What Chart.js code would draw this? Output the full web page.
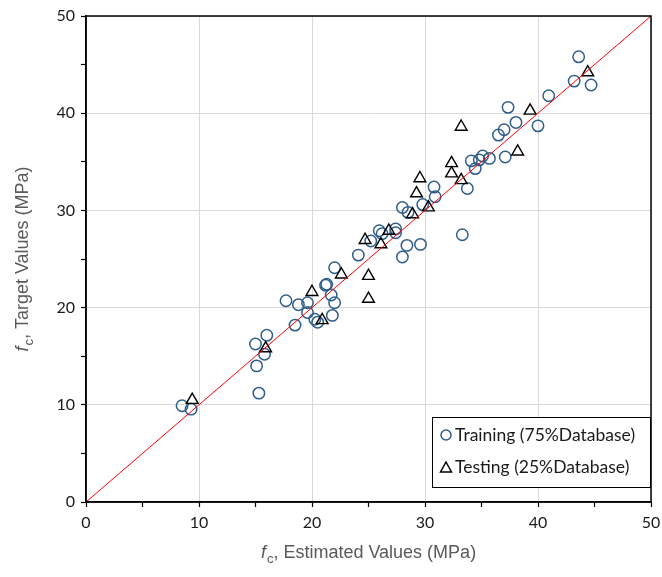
<!DOCTYPE html>
<html>
<head>
<meta charset="utf-8">
<script src="https://cdn.jsdelivr.net/npm/chart.js@4/dist/chart.umd.min.js"></script>
<style>
  html, body { margin: 0; padding: 0; background: #fff; }
  #wrap { width: 662px; height: 577px; position: relative; }
</style>
</head>
<body>
<div id="wrap"><canvas id="c" width="662" height="577"></canvas></div>
<script>
// Estimated vs. target compressive strength (MPa)
const trainEstimated = [8.5, 9.3, 15.3, 15.1, 15.0, 16.0, 15.8, 18.5, 17.7, 18.8, 19.6, 19.6, 20.25, 20.5,
  21.2, 21.3, 21.7, 22.0, 21.8, 22.0, 24.1, 25.2, 25.95, 26.2, 27.4, 27.4, 28.4, 28.0, 28.0, 28.5,
  29.6, 29.8, 30.8, 30.9, 33.3, 33.75, 34.1, 34.45, 34.8, 35.1, 35.7, 36.5, 37.0, 37.1, 38.05, 37.35,
  40.0, 40.95, 43.2, 43.6, 44.7];
const trainTarget = [9.9, 9.55, 11.2, 14.0, 16.25, 17.15, 15.2, 18.2, 20.7, 20.3, 20.5, 19.5, 18.8, 18.5,
  22.3, 22.4, 21.3, 20.5, 19.2, 24.1, 25.4, 26.85, 27.9, 27.6, 28.1, 27.7, 26.4, 25.2, 30.3, 29.8,
  26.5, 30.6, 32.4, 31.4, 27.5, 32.25, 35.1, 34.3, 35.2, 35.6, 35.35, 37.75, 38.3, 35.5, 39.05, 40.6,
  38.7, 41.8, 43.3, 45.8, 42.9];

const testEstimated = [9.4, 15.9, 20.0, 20.9, 22.6, 25.0, 25.0, 24.7, 26.1, 26.8, 28.9, 29.25, 29.55,
  30.3, 32.35, 32.35, 33.2, 33.2, 38.2, 39.3, 44.4];
const testTarget = [10.5, 15.8, 21.6, 18.7, 23.4, 23.25, 20.9, 26.95, 26.5, 27.9, 29.6, 31.75, 33.3,
  30.3, 34.85, 33.8, 33.1, 38.6, 36.05, 40.25, 44.2];

const idealLine = [0, 50];
const axisTicks = [0, 10, 20, 30, 40, 50];

const seriesNames = ['Training (75%Database)', 'Testing (25%Database)'];
const xTitle = ['f', 'c', ', Estimated Values (MPa)'];
const yTitle = ['f', 'c', ', Target Values (MPa)'];

const pairs = (xs, ys) => xs.map((x, i) => ({ x: x, y: ys[i] }));

const BLUE = '#2e5d8b';
const TICK_FONT = "Lato, 'Open Sans', sans-serif";
const TITLE_FONT = "'Liberation Sans', Arial, sans-serif";

// Axis titles with italic f and subscript c
function drawTitle(ctx, parts, size) {
  const f1 = 'italic ' + size + 'px ' + TITLE_FONT;
  const f2 = Math.round(size * 0.7) + 'px ' + TITLE_FONT;
  const f3 = size + 'px ' + TITLE_FONT;
  ctx.font = f1; const w1 = ctx.measureText(parts[0]).width + 1;
  ctx.font = f2; const w2 = ctx.measureText(parts[1]).width;
  ctx.font = f3; const w3 = ctx.measureText(parts[2]).width;
  const total = w1 + w2 + w3;
  let x = -total / 2;
  ctx.textBaseline = 'alphabetic';
  ctx.textAlign = 'left';
  ctx.font = f1; ctx.fillText(parts[0], x, 0); x += w1;
  ctx.font = f2; ctx.fillText(parts[1], x, size * 0.3); x += w2;
  ctx.font = f3; ctx.fillText(parts[2], x, 0);
}

const decorations = {
  id: 'decorations',
  afterDraw(chart) {
    const ctx = chart.ctx;
    const a = chart.chartArea;
    ctx.save();
    // frame
    ctx.strokeStyle = '#000';
    ctx.lineWidth = 1.5;
    ctx.strokeRect(a.left, a.top, a.right - a.left, a.bottom - a.top);

    // legend box
    const bx = 432, by = 417, bw = 218, bh = 70;
    ctx.fillStyle = '#fff';
    ctx.fillRect(bx, by, bw, bh);
    ctx.lineWidth = 1;
    ctx.strokeStyle = '#000';
    ctx.strokeRect(bx + 0.5, by + 0.5, bw, bh);

    ctx.lineWidth = 1.5;
    ctx.strokeStyle = BLUE;
    ctx.beginPath(); ctx.arc(446, 435, 5, 0, Math.PI * 2); ctx.stroke();
    ctx.strokeStyle = '#000';
    ctx.beginPath();
    ctx.moveTo(446, 462); ctx.lineTo(451.5, 472); ctx.lineTo(440.5, 472); ctx.closePath(); ctx.stroke();

    ctx.fillStyle = '#1a1a1a';
    ctx.font = '17.5px ' + TICK_FONT;
    ctx.textBaseline = 'middle';
    ctx.textAlign = 'left';
    ctx.fillText(seriesNames[0], 455, 435);
    ctx.fillText(seriesNames[1], 455, 467);

    // axis titles
    ctx.fillStyle = '#595959';
    ctx.save();
    ctx.translate((a.left + a.right) / 2, 558);
    drawTitle(ctx, xTitle, 18);
    ctx.restore();
    ctx.save();
    ctx.translate(28, (a.top + a.bottom) / 2);
    ctx.rotate(-Math.PI / 2);
    drawTitle(ctx, yTitle, 18);
    ctx.restore();
    ctx.restore();
  }
};

function axis(fitKey, fitVal) {
  return {
    type: 'linear',
    min: axisTicks[0],
    max: axisTicks[axisTicks.length - 1],
    afterBuildTicks(scale) {
      const t = [];
      for (let i = 0; i < axisTicks.length; i++) {
        t.push({ value: axisTicks[i] });
        if (i < axisTicks.length - 1) t.push({ value: (axisTicks[i] + axisTicks[i + 1]) / 2 });
      }
      scale.ticks = t;
    },
    afterFit(scale) {
      scale[fitKey] = fitVal;
      scale.paddingLeft = 0; scale.paddingRight = 0;
      scale.paddingTop = 0; scale.paddingBottom = 0;
    },
    border: { display: true, color: '#000', width: 1.5 },
    grid: {
      color: c => (axisTicks.includes(c.tick.value) ? '#d9d9d9' : 'rgba(0,0,0,0)'),
      lineWidth: 1,
      drawTicks: true,
      tickLength: 5,
      tickColor: '#000',
      tickWidth: 1.2
    },
    ticks: {
      autoSkip: false,
      padding: 6,
      color: '#1a1a1a',
      font: { family: TICK_FONT, size: 16 },
      callback: v => (axisTicks.includes(v) ? String(v) : '')
    }
  };
}

new Chart(document.getElementById('c'), {
  type: 'scatter',
  data: {
    datasets: [
      {
        label: 'y = x',
        data: pairs(idealLine, idealLine),
        showLine: true,
        borderColor: '#ff0000',
        borderWidth: 1,
        pointRadius: 0,
        order: 0
      },
      {
        label: seriesNames[1],
        data: pairs(testEstimated, testTarget),
        pointStyle: 'triangle',
        radius: 6.8,
        backgroundColor: 'rgba(0,0,0,0)',
        borderColor: '#000',
        borderWidth: 1.4,
        order: 1
      },
      {
        label: seriesNames[0],
        data: pairs(trainEstimated, trainTarget),
        pointStyle: 'circle',
        radius: 5.7,
        backgroundColor: 'rgba(0,0,0,0)',
        borderColor: BLUE,
        borderWidth: 1.5,
        order: 2
      }
    ]
  },
  options: {
    responsive: false,
    animation: false,
    devicePixelRatio: 1,
    layout: { padding: { left: 0, right: 11, top: 16, bottom: 0 } },
    plugins: { legend: { display: false }, tooltip: { enabled: false } },
    scales: {
      x: axis('height', 75),
      y: axis('width', 86)
    }
  },
  plugins: [decorations]
});
</script>
</body>
</html>
